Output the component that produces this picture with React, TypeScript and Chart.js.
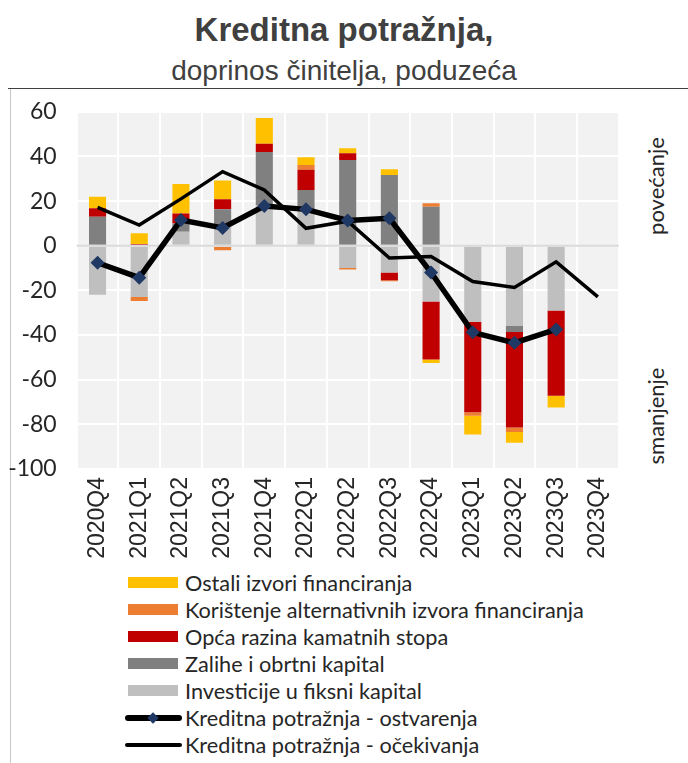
import React, { useEffect, useRef } from "react";
import { Chart, registerables } from "chart.js";

Chart.register(...registerables);

const categories = ["2020Q4", "2021Q1", "2021Q2", "2021Q3", "2021Q4", "2022Q1", "2022Q2", "2022Q3", "2022Q4", "2023Q1", "2023Q2", "2023Q3", "2023Q4"];
const investicije = [-22, -23, 6.3, 8.5, 18, 16, -10, -12, -25, -34, -36, -29, null];
const zalihe = [13, 0, 3.7, 7.8, 24, 9, 38.4, 31.7, 17.5, 0, -2.6, 0, null];
const opca = [3.8, 0.8, 4.5, 4.5, 3.7, 9, 3, -3.4, -26, -40.6, -42.8, -38.2, null];
const koristenje = [0, -1.7, 0, -2, 0, 2.2, -0.6, -0.5, 1.5, -1.5, -2, 0, null];
const ostali = [5.2, 4.8, 13.2, 8.4, 11.5, 3.4, 2.3, 2.6, -1.5, -8.5, -4.8, -5.2, null];
const ostvarenja = [-7.6, -14.3, 11.5, 8, 17.8, 16.3, 11.3, 12.3, -12, -38.8, -43.5, -37.5, null];
const ocekivanja = [17.2, 9.3, 21, 33.2, 25, 7.8, 11, -5.5, -4.8, -16, -18.7, -7.2, -22.9];

const yMin = -100;
const yMax = 60;
const yStep = 20;

const C_OSTALI = "#FFC000";
const C_KOR = "#ED7D31";
const C_OPCA = "#C00000";
const C_ZAL = "#808080";
const C_INV = "#BFBFBF";
const C_MARK = "#1F3864";

const legendItems = [
  { label: "Ostali izvori financiranja", type: "box", color: C_OSTALI },
  { label: "Korištenje alternativnih izvora financiranja", type: "box", color: C_KOR },
  { label: "Opća razina kamatnih stopa", type: "box", color: C_OPCA },
  { label: "Zalihe i obrtni kapital", type: "box", color: C_ZAL },
  { label: "Investicije u fiksni kapital", type: "box", color: C_INV },
  { label: "Kreditna potražnja - ostvarenja", type: "marker", color: "#000" },
  { label: "Kreditna potražnja - očekivanja", type: "line", color: "#000" },
];

const bgPlugin = {
  id: "bgPlugin",
  beforeDraw(chart: any) {
    const { ctx, chartArea } = chart;
    ctx.save();
    ctx.fillStyle = "#F2F2F2";
    ctx.fillRect(chartArea.left, chartArea.top, chartArea.right - chartArea.left, chartArea.bottom - chartArea.top);
    ctx.restore();
  },
  afterDatasetDraw(chart: any, args: any) {
    if (args.index !== 0) return;
    const { ctx, chartArea } = chart;
    const y = chart.scales.y.getPixelForValue(0);
    ctx.save();
    ctx.strokeStyle = "#D9D9D9";
    ctx.lineWidth = 2;
    ctx.beginPath();
    ctx.moveTo(chartArea.left, y);
    ctx.lineTo(chartArea.right, y);
    ctx.stroke();
    ctx.restore();
  },
};

function ChartCanvas() {
  const ref = useRef<HTMLCanvasElement | null>(null);
  useEffect(() => {
    if (!ref.current) return;
    const barCommon = { type: "bar" as const, order: 10, barPercentage: 0.41, categoryPercentage: 1, borderWidth: 0 };
    const chart = new Chart(ref.current, {
      type: "bar",
      data: {
        labels: categories,
        datasets: [
          { ...barCommon, label: "Investicije u fiksni kapital", data: investicije, backgroundColor: C_INV },
          { ...barCommon, label: "Zalihe i obrtni kapital", data: zalihe, backgroundColor: C_ZAL },
          { ...barCommon, label: "Opća razina kamatnih stopa", data: opca, backgroundColor: C_OPCA },
          { ...barCommon, label: "Korištenje alternativnih izvora financiranja", data: koristenje, backgroundColor: C_KOR },
          { ...barCommon, label: "Ostali izvori financiranja", data: ostali, backgroundColor: C_OSTALI },
          {
            type: "line" as const,
            order: 0,
            label: "Kreditna potražnja - ostvarenja",
            data: ostvarenja,
            borderColor: "#000",
            borderWidth: 5.5,
            pointStyle: "rectRot",
            pointRadius: 7,
            pointBackgroundColor: C_MARK,
            pointBorderColor: C_MARK,
            pointBorderWidth: 0,
            tension: 0,
            stack: "l1",
          } as any,
          {
            type: "line" as const,
            order: 1,
            label: "Kreditna potražnja - očekivanja",
            data: ocekivanja,
            borderColor: "#000",
            borderWidth: 3.5,
            pointRadius: 0,
            tension: 0,
            stack: "l2",
          } as any,
        ],
      },
      options: {
        responsive: false,
        animation: false,
        layout: { padding: { left: 0, right: 69.3, top: 10, bottom: 0 } },
        plugins: { legend: { display: false }, tooltip: { enabled: false }, title: { display: false } },
        scales: {
          x: {
            stacked: true,
            grid: { color: "#FFFFFF", lineWidth: 2, drawTicks: false, offset: true },
            border: { display: false },
            ticks: {
              maxRotation: 90,
              minRotation: 90,
              padding: 8,
              color: "#262626",
              font: { family: "'Liberation Sans', Arial, sans-serif", size: 23 },
            },
            afterFit(scale: any) {
              scale.height = 109;
            },
          },
          y: {
            stacked: true,
            min: yMin,
            max: yMax,
            grid: { color: "#FFFFFF", lineWidth: 2, drawTicks: false },
            border: { display: false },
            ticks: {
              stepSize: yStep,
              padding: 20,
              color: "#262626",
              font: { family: "Lato, 'Open Sans', sans-serif", size: 23 },
            },
            afterFit(scale: any) {
              scale.width = 76.7;
            },
          },
        },
      },
      plugins: [bgPlugin],
    } as any);
    return () => chart.destroy();
  }, []);
  return <canvas ref={ref} width={688} height={500} style={{ position: "absolute", left: 0, top: 78, width: 688, height: 500 }} />;
}

export default function App() {
  const legendFont = "Lato, 'Open Sans', sans-serif";
  return (
    <div style={{ position: "absolute", left: 0, top: 0, width: 688, height: 763, background: "#fff", overflow: "hidden" }}>
      <div style={{ position: "absolute", left: 0, top: 10, width: 688, textAlign: "center", fontFamily: "'Liberation Sans', Arial, sans-serif", fontWeight: "bold", fontSize: 33, color: "#404040", lineHeight: "40px" }}>
        Kreditna potražnja,
      </div>
      <div style={{ position: "absolute", left: 0, top: 55, width: 688, textAlign: "center", fontFamily: "'Liberation Sans', Arial, sans-serif", fontSize: 28, color: "#404040", lineHeight: "32px" }}>
        doprinos činitelja, poduzeća
      </div>
      <div style={{ position: "absolute", left: 8, top: 88, width: 680, height: 0, borderTop: "1.5px solid #404040" }} />
      <div style={{ position: "absolute", left: 10, top: 89, width: 0, height: 674, borderLeft: "1px solid #C8C8C8" }} />
      <div style={{ position: "absolute", left: 655, top: 186, transform: "translate(-50%, -50%) rotate(-90deg)", fontFamily: legendFont, fontSize: 22, color: "#262626", whiteSpace: "nowrap" }}>
        povećanje
      </div>
      <div style={{ position: "absolute", left: 655, top: 416, transform: "translate(-50%, -50%) rotate(-90deg)", fontFamily: legendFont, fontSize: 22, color: "#262626", whiteSpace: "nowrap" }}>
        smanjenje
      </div>
      {legendItems.map((it, i) => {
        const cy = 583 + i * 27;
        return (
          <div key={i} style={{ position: "absolute", left: 0, top: cy - 14, height: 28, width: 688 }}>
            {it.type === "box" && (
              <div style={{ position: "absolute", left: 128, top: 8, width: 50, height: 11, background: it.color }} />
            )}
            {it.type === "marker" && (
              <>
                <div style={{ position: "absolute", left: 125, top: 11, width: 57, height: 5.5, background: "#000", borderRadius: 3 }} />
                <div style={{ position: "absolute", left: 149, top: 9.5, width: 8, height: 8, background: C_MARK, transform: "rotate(45deg)" }} />
              </>
            )}
            {it.type === "line" && (
              <div style={{ position: "absolute", left: 125, top: 12, width: 57, height: 3.5, background: "#000", borderRadius: 2 }} />
            )}
            <div style={{ position: "absolute", left: 185, top: 0, lineHeight: "28px", fontFamily: legendFont, fontSize: 21.7, color: "#262626", whiteSpace: "nowrap" }}>
              {it.label}
            </div>
          </div>
        );
      })}
      <ChartCanvas />
    </div>
  );
}
